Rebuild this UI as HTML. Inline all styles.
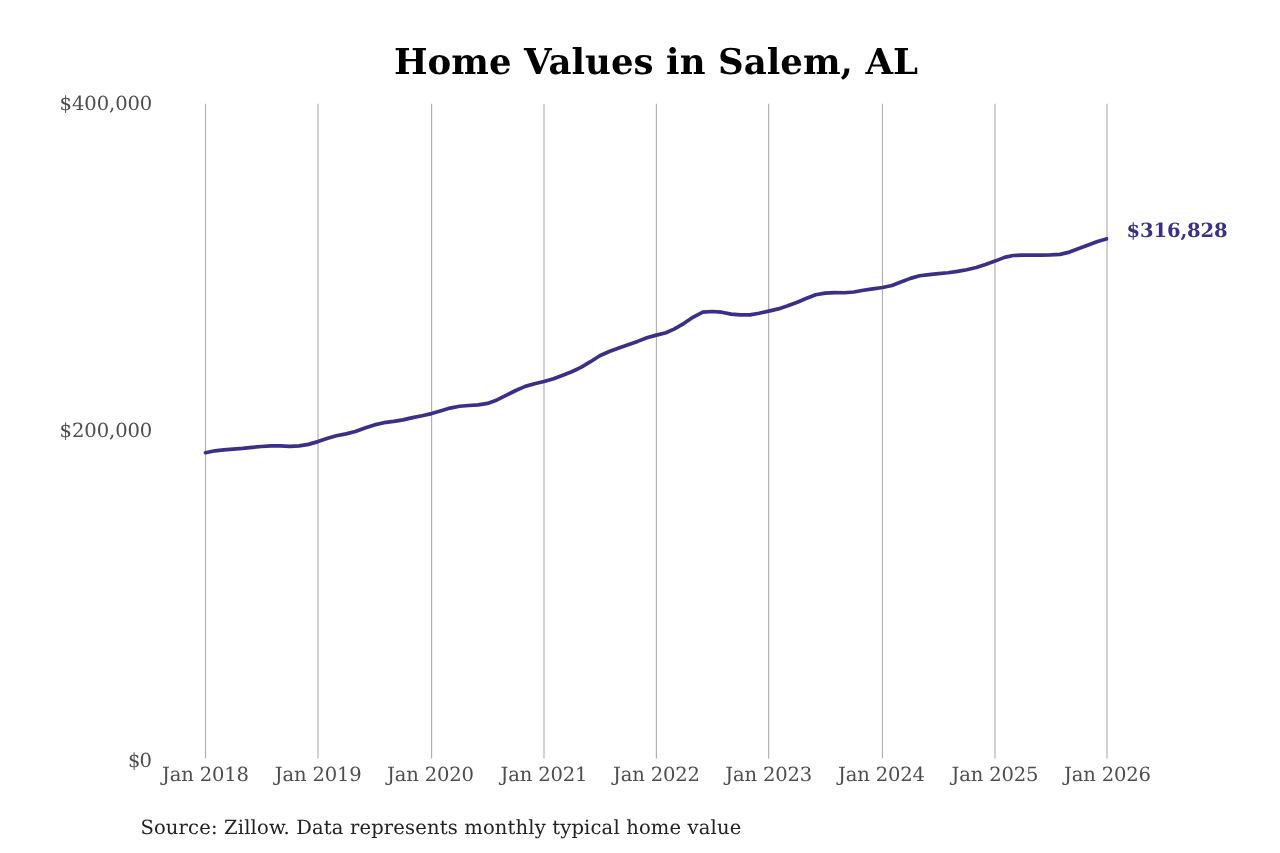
<!DOCTYPE html>
<html lang="en"><head><meta charset="utf-8"><title>Home Values in Salem, AL</title>
<style>
html,body{margin:0;padding:0;background:#fff;}
body{width:1280px;height:853px;overflow:hidden;}
svg{display:block;}
text{font-family:"DejaVu Serif","Liberation Serif",serif;text-rendering:geometricPrecision;}
.t{font-weight:bold;font-size:35.56px;fill:#000;}
.y{font-size:19.56px;fill:#4d4d4d;}
.x{font-size:19.56px;fill:#4d4d4d;}
.s{font-size:19.56px;fill:#222;}
.e{font-size:19.56px;font-weight:bold;fill:#3a3088;}
</style></head><body>
<svg width="1280" height="853" viewBox="0 0 1280 853">
<rect width="1280" height="853" fill="#fff"/>

<g stroke="#b0b0b0" stroke-width="1.15">
<line x1="205.5" y1="103.7" x2="205.5" y2="758.5"/>
<line x1="318.0" y1="103.7" x2="318.0" y2="758.5"/>
<line x1="431.6" y1="103.7" x2="431.6" y2="758.5"/>
<line x1="544.0" y1="103.7" x2="544.0" y2="758.5"/>
<line x1="656.4" y1="103.7" x2="656.4" y2="758.5"/>
<line x1="768.65" y1="103.7" x2="768.65" y2="758.5"/>
<line x1="882.45" y1="103.7" x2="882.45" y2="758.5"/>
<line x1="995.0" y1="103.7" x2="995.0" y2="758.5"/>
<line x1="1107.0" y1="103.7" x2="1107.0" y2="758.5"/>
</g>
<clipPath id="cl"><rect x="0" y="0" width="1108.2" height="853"/></clipPath>
<polyline clip-path="url(#cl)" points="205.50,452.70 215.05,450.80 223.68,449.90 233.24,449.10 242.49,448.40 252.04,447.40 261.29,446.50 270.84,445.90 280.40,445.90 289.64,446.30 299.20,445.90 308.45,444.40 318.00,441.60 327.65,438.25 336.36,435.80 346.01,433.90 355.35,431.50 365.00,427.90 374.33,424.90 383.98,422.70 393.63,421.40 402.97,419.90 412.61,417.60 421.95,415.80 431.60,413.60 441.12,410.75 450.03,408.10 459.55,406.25 468.76,405.50 478.28,404.90 487.49,403.40 497.01,399.90 506.53,395.20 515.75,390.50 525.27,386.40 534.48,383.75 544.00,381.50 553.55,378.70 562.17,375.50 571.72,371.70 580.95,367.40 590.50,361.70 599.74,355.80 609.28,351.50 618.83,347.90 628.07,344.70 637.62,341.40 646.85,337.80 656.40,335.10 665.93,332.70 674.54,328.90 684.08,323.30 693.30,317.05 702.84,312.10 712.06,311.50 721.60,312.20 731.13,314.10 740.36,314.95 749.89,314.85 759.12,313.30 768.65,311.10 778.32,308.90 787.05,306.10 796.71,302.50 806.06,298.50 815.73,294.80 825.08,293.10 834.75,292.60 844.41,292.75 853.77,292.00 863.43,290.30 872.78,288.80 882.45,287.50 891.98,285.50 900.90,282.10 910.43,278.40 919.66,275.75 929.19,274.60 938.42,273.70 947.95,272.75 957.48,271.40 966.71,269.75 976.24,267.50 985.47,264.50 995.00,261.10 1004.51,257.40 1013.10,255.50 1022.62,255.10 1031.82,255.10 1041.33,255.10 1050.54,254.90 1060.05,254.40 1069.56,252.10 1078.77,248.60 1088.28,245.10 1097.49,241.50 1107.00,238.80" fill="none" stroke="#3a3088" stroke-width="3.7" stroke-linejoin="round" stroke-linecap="round"/>
<text class="t" x="393.90" y="73.80" textLength="524.20" lengthAdjust="spacing">Home Values in Salem, AL</text>
<text class="y" x="59.60" y="110.00" textLength="92.70" lengthAdjust="spacing">$400,000</text>
<text class="y" x="59.60" y="436.90" textLength="92.70" lengthAdjust="spacing">$200,000</text>
<text class="y" x="128.00" y="767.10" textLength="23.90" lengthAdjust="spacing">$0</text>
<text class="x" x="162.00" y="781.40" textLength="86.95" lengthAdjust="spacing">Jan 2018</text>
<text class="x" x="274.85" y="781.40" textLength="86.95" lengthAdjust="spacing">Jan 2019</text>
<text class="x" x="387.00" y="781.40" textLength="86.95" lengthAdjust="spacing">Jan 2020</text>
<text class="x" x="500.50" y="781.40" textLength="86.95" lengthAdjust="spacing">Jan 2021</text>
<text class="x" x="613.10" y="781.40" textLength="86.95" lengthAdjust="spacing">Jan 2022</text>
<text class="x" x="725.20" y="781.40" textLength="86.95" lengthAdjust="spacing">Jan 2023</text>
<text class="x" x="838.00" y="781.40" textLength="86.95" lengthAdjust="spacing">Jan 2024</text>
<text class="x" x="951.60" y="781.40" textLength="86.95" lengthAdjust="spacing">Jan 2025</text>
<text class="x" x="1064.00" y="781.40" textLength="86.95" lengthAdjust="spacing">Jan 2026</text>
<text class="e" x="1126.50" y="237.00" textLength="101.20" lengthAdjust="spacing">$316,828</text>
<text class="s" x="140.40" y="834.00" textLength="600.90" lengthAdjust="spacing">Source: Zillow. Data represents monthly typical home value</text>
</svg></body></html>
